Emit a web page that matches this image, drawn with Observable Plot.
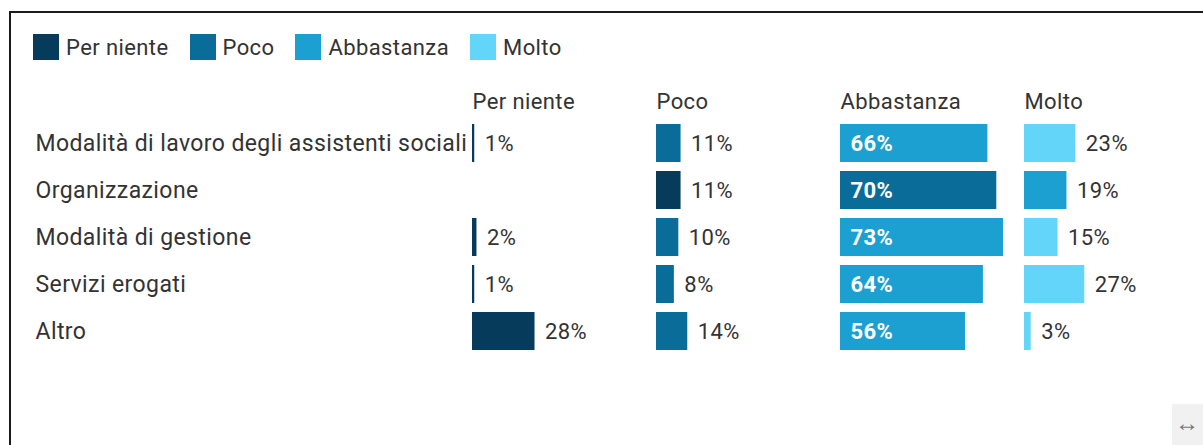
<!DOCTYPE html>
<html>
<head>
<meta charset="utf-8">
<script src="https://cdn.jsdelivr.net/npm/d3@7"></script>
<script src="https://cdn.jsdelivr.net/npm/@observablehq/plot@0.6"></script>
<style>
  html, body { margin: 0; padding: 0; background: #fff; width: 1203px; height: 445px; overflow: hidden; font-family: Roboto, "Noto Sans", sans-serif; }
  #frame { position: absolute; left: 9px; top: 11px; width: 1300px; height: 500px; border: 2px solid #1a1a1a; box-sizing: border-box; }
  #legend { position: absolute; left: 33px; top: 34px; height: 26px; display: flex; align-items: center; font-size: 22px; letter-spacing: 0.4px; color: #333; }
  #legend .item { display: flex; align-items: center; margin-right: 21px; }
  #legend .sw { width: 26px; height: 26px; margin-right: 7px; }
  #chart { position: absolute; left: 0; top: 75px; }
  #chart svg text { letter-spacing: 0.4px; }
  #gadget { position: absolute; left: 1172px; top: 404px; width: 40px; height: 50px; background: #f1f1f1; color: #777; font-size: 24px; line-height: 38px; padding-left: 3px; box-sizing: border-box; }
</style>
</head>
<body>
<div id="frame"></div>
<div id="legend"></div>
<div id="chart"></div>
<div id="gadget">↔</div>
<script>
const categories = [
  "Modalità di lavoro degli assistenti sociali",
  "Organizzazione",
  "Modalità di gestione",
  "Servizi erogati",
  "Altro"
];
const levels = ["Per niente", "Poco", "Abbastanza", "Molto"];
const perNiente  = [1, 0, 2, 1, 28];
const poco       = [11, 11, 10, 8, 14];
const abbastanza = [66, 70, 73, 64, 56];
const molto      = [23, 19, 15, 27, 3];
const colors = ["#073b5c", "#0a6d99", "#1ba0d1", "#63d5f9"];
const shiftedRow = "Organizzazione"; // in the source this row uses the next-darker colour

const series = [perNiente, poco, abbastanza, molto];
const data = [];
categories.forEach((cat, i) => {
  levels.forEach((lev, j) => {
    const v = series[j][i];
    if (v > 0) data.push({cat, level: lev, value: v, ci: cat === shiftedRow ? j - 1 : j});
  });
});

// legend
const legend = document.getElementById("legend");
levels.forEach((lev, j) => {
  const it = document.createElement("div");
  it.className = "item";
  it.innerHTML = `<span class="sw" style="background:${colors[j]}"></span><span>${lev}</span>`;
  legend.appendChild(it);
});

const fs = 22;
const chart = Plot.plot({
  width: 1203,
  height: 370,
  marginLeft: 472,
  marginRight: 15,
  marginTop: 39,
  marginBottom: 85,
  style: {fontFamily: "Roboto, 'Noto Sans', sans-serif", background: "transparent"},
  fx: {domain: levels, paddingInner: 0.114, paddingOuter: 0, axis: null, label: null},
  x: {domain: [0, 73], axis: null},
  y: {domain: categories, padding: 0.19, axis: null, label: null},
  marks: [
    Plot.barX(data, {fx: "level", y: "cat", x: "value", fill: d => colors[d.ci]}),
    Plot.text(data.filter(d => d.level !== "Abbastanza"), {
      fx: "level", y: "cat", x: "value", text: d => d.value + "%",
      textAnchor: "start", dx: 10, fill: "#333", fontSize: fs
    }),
    Plot.text(data.filter(d => d.level === "Abbastanza"), {
      fx: "level", y: "cat", x: 0, text: d => d.value + "%",
      textAnchor: "start", dx: 10, fill: "#fff", fontWeight: "bold", fontSize: fs
    }),
    Plot.text(levels, {
      fx: d => d, text: d => d, frameAnchor: "top-left", textAnchor: "start",
      lineAnchor: "middle", dy: -13, fill: "#333", fontSize: fs
    }),
    Plot.axisY({tickSize: 0, tickPadding: 0, textAnchor: "start", dx: -437, fill: "#333", fontSize: 23, label: null})
  ]
});
document.getElementById("chart").appendChild(chart);
</script>
</body>
</html>
